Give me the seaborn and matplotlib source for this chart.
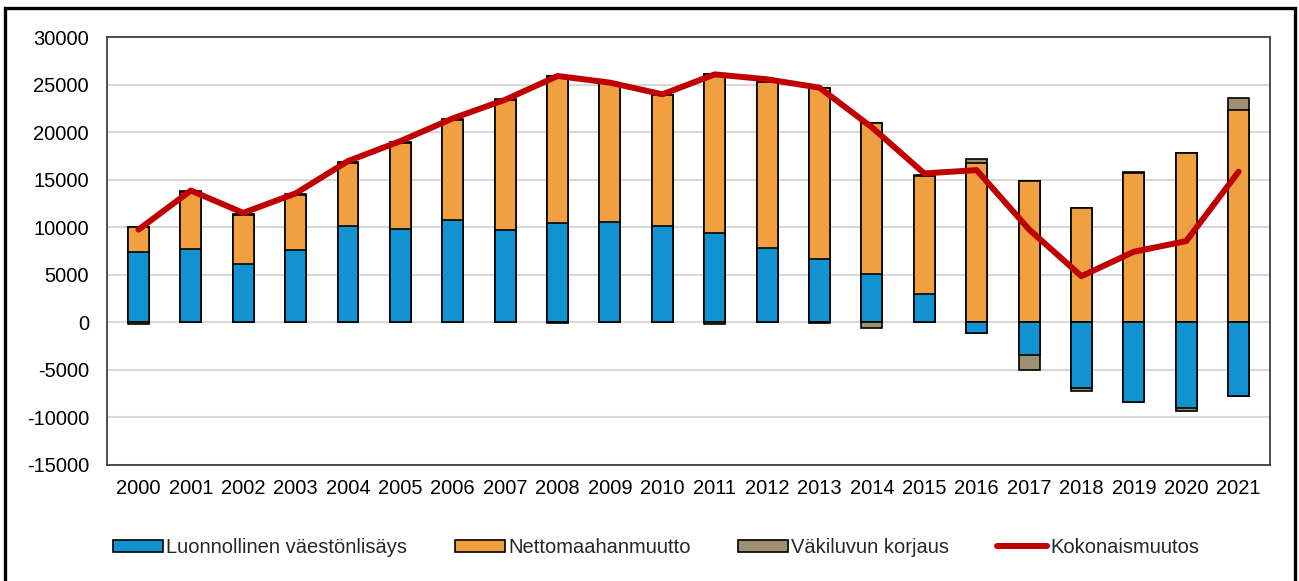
import numpy as np
import pandas as pd
import matplotlib
matplotlib.use("Agg")
import matplotlib.pyplot as plt
from matplotlib import font_manager
from matplotlib.patches import Rectangle
from matplotlib.lines import Line2D
import seaborn as sns


years = [str(y) for y in range(2000, 2022)]
natural_increase = [7370, 7650, 6150, 7620, 10100, 9800, 10780, 9650, 10460, 10570, 10100,
                    9340, 7790, 6630, 5020, 2950, -1120, -3400, -6910, -8380, -9020, -7790]
net_migration = [2600, 6000, 5150, 5780, 6650, 9000, 10450, 13680, 15450, 14550, 13750,
                 16800, 17500, 18050, 15900, 12450, 16770, 14840, 11970, 15650, 17830, 22320]
correction = [-150, 100, 60, 60, 80, 120, 120, 100, -100, 50, 50,
              -200, 50, -100, -590, 100, 350, -1580, -280, 140, -350, 1260]
total_change = [9740, 13850, 11500, 13550, 16950, 19050, 21440, 23400, 25900, 25200, 23970,
                26070, 25550, 24670, 20500, 15650, 16000, 9760, 4840, 7410, 8530, 15830]

labels = ["Luonnollinen väestönlisäys", "Nettomaahanmuutto", "Väkiluvun korjaus", "Kokonaismuutos"]
colors = ["#1192d1", "#f0a040", "#9c9071", "#c00000"]

sns.set_theme(style="white")
names = {f.name for f in font_manager.fontManager.ttflist}
if "Liberation Sans Narrow" in names:
    plt.rcParams["font.family"] = ["Liberation Sans Narrow", "DejaVu Sans"]
    fs = 16
else:
    plt.rcParams["font.family"] = ["Liberation Sans", "DejaVu Sans"]
    fs = 14.5
plt.rcParams["axes.unicode_minus"] = False

df = pd.DataFrame({"year": years, "nat": natural_increase, "mig": net_migration,
                   "cor": correction, "total": total_change})
nat_pos = df["nat"].clip(lower=0)
nat_neg = df["nat"].clip(upper=0)
cor_pos = df["cor"].clip(lower=0)
cor_neg = df["cor"].clip(upper=0)
# cumulative tops, drawn from the outermost layer inwards
layers = [
    (nat_pos + df["mig"] + cor_pos, colors[2]),
    (nat_pos + df["mig"], colors[1]),
    (nat_pos, colors[0]),
    (nat_neg + cor_neg, colors[2]),
    (nat_neg, colors[0]),
]

fig = plt.figure(figsize=(12.99, 5.81), dpi=100)
ax = fig.add_axes([0.0824, 0.2, 0.8953, 0.7363])

for vals, col in layers:
    v = vals.replace(0, np.nan)
    sns.barplot(x=df["year"], y=v, color=col, width=0.4, edgecolor="black",
                linewidth=1.2, saturation=1, ax=ax, errorbar=None)

sns.lineplot(x=np.arange(len(df)), y=df["total"], color=colors[3], linewidth=4.3,
             solid_capstyle="round", ax=ax)

ax.set_ylim(-15000, 30000)
ax.set_xlim(-0.6, len(df) - 0.4)
ax.set_yticks(range(-15000, 30001, 5000))
ax.set_xticks(range(len(df)))
ax.set_xticklabels(years)
ax.yaxis.grid(True, color="#d9d9d9", linewidth=1.5)
ax.set_axisbelow(True)
ax.set_xlabel("")
ax.set_ylabel("")
ax.tick_params(axis="both", length=0, labelsize=fs, colors="black")
ax.tick_params(axis="y", pad=13)
ax.tick_params(axis="x", pad=10)
for sp in ax.spines.values():
    sp.set_visible(True)
    sp.set_color("#404040")
    sp.set_linewidth(1.3)

handles = [
    Rectangle((0, 0), 1, 1, facecolor=colors[0], edgecolor="black", linewidth=1.2),
    Rectangle((0, 0), 1, 1, facecolor=colors[1], edgecolor="black", linewidth=1.2),
    Rectangle((0, 0), 1, 1, facecolor=colors[2], edgecolor="black", linewidth=1.2),
    Line2D([0], [0], color=colors[3], linewidth=4.3),
]
fig.legend(handles, labels, loc="center", bbox_to_anchor=(0.505, 0.058), ncol=4,
           frameon=False, fontsize=fs, handlelength=2.5, handleheight=0.55,
           handletextpad=0.15, columnspacing=2.35)

fig.patches.append(Rectangle((5 / 1299, -0.05), 1290 / 1299, 1.05 - 8 / 581,
                             transform=fig.transFigure, fill=False,
                             edgecolor="black", linewidth=2.4))

fig.savefig("out.png", dpi=100)
